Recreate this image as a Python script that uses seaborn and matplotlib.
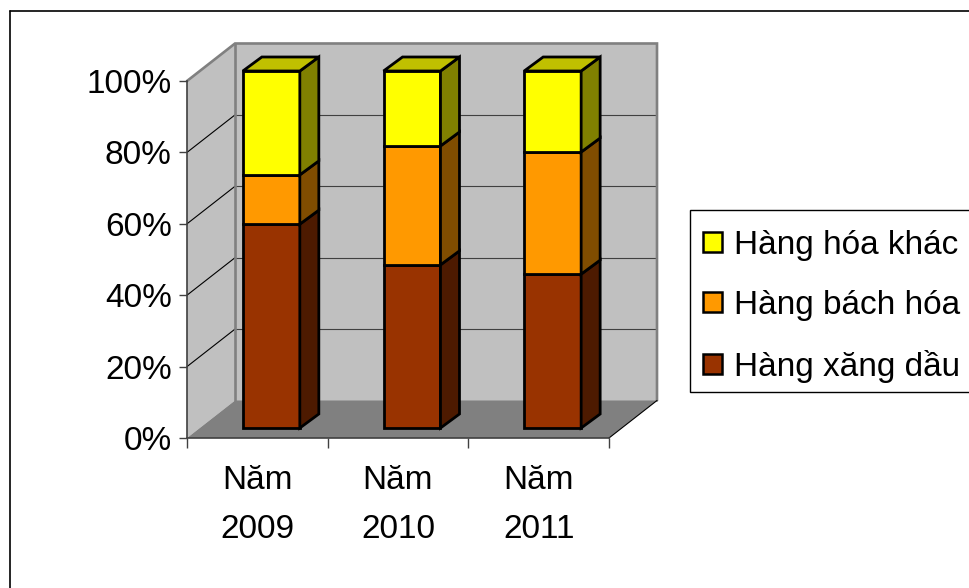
import matplotlib
matplotlib.use("Agg")
import matplotlib.pyplot as plt
from matplotlib.patches import Polygon, Patch, Rectangle
import seaborn as sns

sns.set_style("white")
plt.rcParams["font.family"] = ["Liberation Sans", "DejaVu Sans"]

# Shipment shares by year, in percent
years = ["Năm\n2009", "Năm\n2010", "Năm\n2011"]
xang_dau = [57.1, 45.7, 43.1]
bach_hoa = [13.8, 33.3, 34.2]
hoa_khac = [29.1, 21.0, 22.7]
series_names = ["Hàng xăng dầu", "Hàng bách hóa", "Hàng hóa khác"]
y_ticks = [0, 20, 40, 60, 80, 100]
y_tick_labels = ["0%", "20%", "40%", "60%", "80%", "100%"]

FRONT = ["#993300", "#FF9900", "#FFFF00"]
SIDE = ["#4D1A00", "#804D00", "#808000"]
TOP = "#C0C000"
WALL = "#C0C0C0"
FLOOR = "#808080"
AXIS = "#404040"
FONT_SIZE = 24

W, H = 969, 588
fig = plt.figure(figsize=(W / 100, H / 100), dpi=100, facecolor="white")


def axes_at(left, top, right, bottom, **kw):
    """Axes placed by pixel edges, measured from the top left of the figure."""
    return fig.add_axes([left / W, 1 - bottom / H, (right - left) / W, (bottom - top) / H], **kw)


# Frame and 3D box, drawn in a full-figure pixel space
bg = axes_at(0, 0, W, H)
bg.set_xlim(0, W)
bg.set_ylim(H, 0)
bg.axis("off")
bg.plot([10, 10], [H, 11], color="black", lw=1.2)
bg.plot([10, W], [11, 11], color="black", lw=1.2)

fx0, fx1, fy0, fy1 = 187, 609, 438, 81      # front plane of the box
bx0, bx1, by0, by1 = 235, 657, 400.5, 43.5  # back wall of the box
bg.add_patch(Polygon([(bx0, by1), (bx1, by1), (bx1, by0), (bx0, by0)], fc=WALL, ec="none"))
bg.add_patch(Polygon([(fx0, fy0), (fx0, fy1), (bx0, by1), (bx0, by0)], fc=WALL, ec="none"))
bg.add_patch(Polygon([(fx0, fy0), (fx1, fy0), (bx1, by0), (bx0, by0)], fc=FLOOR, ec="none"))
for v in y_ticks[1:-1]:
    yf = fy0 + (fy1 - fy0) * v / 100
    yb = by0 + (by1 - by0) * v / 100
    bg.plot([fx0, bx0], [yf, yb], color="black", lw=0.8)
    bg.plot([bx0, bx1], [yb, yb], color=AXIS, lw=0.8)
bg.plot([fx0, bx0, bx1, bx1], [fy1, by1, by1, by0], color=FLOOR, lw=1.9, solid_joinstyle="miter")
bg.plot([bx0, bx0], [by1, by0], color=FLOOR, lw=1.9)
bg.plot([fx1, bx1], [fy0, by0], color="black", lw=0.8)

# Legend box, running off the right edge of the figure
bg.add_patch(Rectangle((690, 210), W, 182, fc="white", ec="black", lw=1.0))

# Front-plane axis carrying the ticks and labels
ax = axes_at(fx0, fy1, fx1, fy0)
ax.patch.set_alpha(0)
ax.set_xlim(-0.5, 2.5)
ax.set_ylim(0, 100)
ax.set_yticks(y_ticks, y_tick_labels, fontsize=FONT_SIZE)
ax.set_xticks([-0.5, 0.5, 1.5, 2.5], [""] * 4)
ax.set_xticks([0, 1, 2], years, minor=True, fontsize=FONT_SIZE, linespacing=1.74)
ax.tick_params(axis="y", which="major", left=True, length=5.5, width=1, color=AXIS, pad=5.5, labelcolor="black")
ax.tick_params(axis="x", which="major", bottom=True, length=7, width=1, color=AXIS)
ax.tick_params(axis="x", which="minor", bottom=False, length=0, pad=19.5, labelcolor="black")
for name, spine in ax.spines.items():
    spine.set_visible(name in ("left", "bottom"))
    spine.set_color(AXIS)
    spine.set_linewidth(1.2)

# Bars, on a plane set slightly into the box
bar_x0, bar_x1, bar_y0, bar_y1 = 201, 623, 428, 71
ax_bars = axes_at(bar_x0, bar_y1, bar_x1, bar_y0)
ax_bars.patch.set_alpha(0)
ax_bars.axis("off")

bottom = [0.0, 0.0, 0.0]
edge = dict(edgecolor="black", linewidth=2.0)
depth_x = 19 / ((bar_x1 - bar_x0) / 3)      # bar depth in category units
depth_y = 14 / ((bar_y0 - bar_y1) / 100)    # bar depth in percentage points
bar_width = 0.405
positions = [0, 1, 2]
for values, name, front, side in zip([xang_dau, bach_hoa, hoa_khac], series_names, FRONT, SIDE):
    sns.barplot(x=positions, y=values, bottom=bottom, color=front, saturation=1,
                width=bar_width, native_scale=True, ax=ax_bars, **edge)
    for p, v, b in zip(positions, values, bottom):
        right = p + bar_width / 2
        ax_bars.add_patch(Polygon([(right, b), (right + depth_x, b + depth_y),
                                   (right + depth_x, b + v + depth_y), (right, b + v)],
                                  fc=side, clip_on=False, zorder=3, lw=2.0, ec="black", joinstyle="miter"))
    bottom = [b + v for b, v in zip(bottom, values)]
for p, t in zip(positions, bottom):
    left, right = p - bar_width / 2, p + bar_width / 2
    ax_bars.add_patch(Polygon([(left, t), (right, t), (right + depth_x, t + depth_y),
                               (left + depth_x, t + depth_y)],
                              fc=TOP, clip_on=False, zorder=3, lw=2.0, ec="black", joinstyle="miter"))
ax_bars.set_xlim(-0.5, 2.5)
ax_bars.set_ylim(0, 100)
for patch in ax_bars.patches:
    patch.set_clip_on(False)

# Legend entries, listed from the top segment down
handles = [Patch(fc=c, ec="black", lw=1.8, label=n) for c, n in zip(FRONT[::-1], series_names[::-1])]
fig.legend(handles=handles, loc="upper left", bbox_to_anchor=(703 / W, 1 - 230 / H),
           borderaxespad=0, frameon=False, fontsize=FONT_SIZE, labelcolor="black",
           handlelength=0.57, handleheight=0.57, handletextpad=0.36,
           labelspacing=0.87, borderpad=0)

fig.savefig("out.png", dpi=100)
